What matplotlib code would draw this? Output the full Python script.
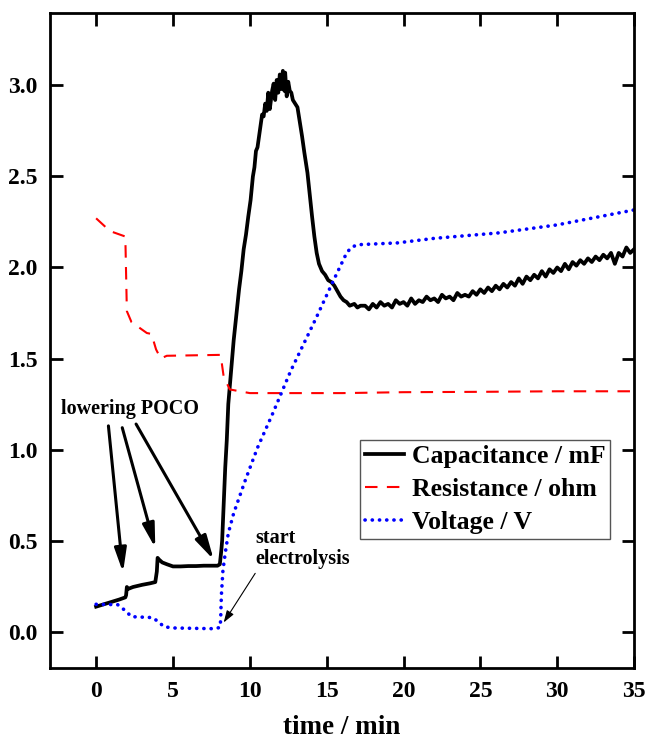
#!/usr/bin/env python3

import matplotlib
matplotlib.use("Agg")
import matplotlib.pyplot as plt

plt.rcParams["font.family"] = ["Liberation Serif", "DejaVu Serif"]
plt.rcParams["font.weight"] = "bold"

# Capacitance / mF
cap_t = [
    0.0, 0.5, 1.0, 1.5, 1.9, 1.95, 2.0, 2.1, 2.4, 3.0, 3.5, 3.85, 3.95, 4.0,
    4.1, 4.3, 4.6, 5.0, 5.5, 6.0, 6.5, 7.0, 7.5, 7.9, 8.05, 8.15, 8.2, 8.3,
    8.4, 8.5, 8.6, 8.75, 8.95, 9.1, 9.3, 9.45, 9.6, 9.75, 9.9, 10.05, 10.2,
    10.3, 10.4, 10.5, 10.65, 10.8, 10.9, 11.0, 11.1, 11.2, 11.3, 11.45, 11.55,
    11.65, 11.75, 11.85, 11.95, 12.05, 12.15, 12.25, 12.3, 12.4, 12.5, 12.6,
    12.7, 12.8, 12.95, 13.1, 13.25, 13.4, 13.55, 13.75, 13.9, 14.05, 14.2,
    14.35, 14.5, 14.7, 14.9, 15.1, 15.3, 15.5, 15.7, 15.9, 16.1, 16.3, 16.5,
    16.8, 17.0, 17.2,
    17.5, 17.75, 18.0, 18.25, 18.5, 18.75, 19.0, 19.25, 19.5, 19.75, 20.0,
    20.25, 20.5, 20.75, 21.0, 21.25, 21.5, 21.75, 22.0, 22.25, 22.5, 22.75,
    23.0, 23.25, 23.5, 23.75, 24.0, 24.25, 24.5, 24.75, 25.0, 25.25, 25.5,
    25.75, 26.0, 26.25, 26.5, 26.75, 27.0, 27.25, 27.5, 27.75, 28.0, 28.25,
    28.5, 28.75, 29.0, 29.25, 29.5, 29.75, 30.0, 30.25, 30.5, 30.75, 31.0,
    31.25, 31.5, 31.75, 32.0, 32.25, 32.5, 32.75, 33.0, 33.25, 33.5, 33.75,
    34.0, 34.25, 34.5, 34.75, 35.0,
]
cap_v = [
    0.137, 0.150, 0.163, 0.176, 0.188, 0.20, 0.245, 0.235, 0.245, 0.257, 0.265,
    0.272, 0.33, 0.405, 0.395, 0.38, 0.37, 0.358, 0.358, 0.360, 0.360, 0.362,
    0.362, 0.362, 0.370, 0.45, 0.50, 0.70, 0.90, 1.05, 1.25, 1.40, 1.60, 1.72,
    1.88, 1.98, 2.10, 2.18, 2.28, 2.37, 2.50, 2.55, 2.64, 2.66, 2.75, 2.84,
    2.83, 2.90, 2.86, 2.96, 2.87, 2.97, 3.01, 2.92, 3.03, 2.96, 3.06, 2.98,
    3.08, 2.97, 3.07, 2.94, 3.02, 2.97, 2.96, 2.92, 2.90, 2.88, 2.80, 2.72,
    2.63, 2.52, 2.40, 2.28, 2.17, 2.08, 2.02, 1.98, 1.96, 1.93, 1.92, 1.90,
    1.87, 1.84, 1.82, 1.81, 1.79, 1.80, 1.78, 1.79,
    1.79, 1.77, 1.80, 1.78, 1.81, 1.79, 1.80, 1.78, 1.82, 1.80, 1.81,
    1.79, 1.83, 1.80, 1.82, 1.81, 1.84, 1.82, 1.83, 1.81, 1.85, 1.83,
    1.84, 1.82, 1.86, 1.84, 1.85, 1.84, 1.87, 1.85, 1.88, 1.86, 1.89,
    1.87, 1.90, 1.88, 1.91, 1.89, 1.92, 1.90, 1.94, 1.91, 1.95, 1.93,
    1.96, 1.94, 1.98, 1.95, 1.99, 1.97, 2.00, 1.98, 2.02, 1.99, 2.03,
    2.01, 2.04, 2.02, 2.05, 2.03, 2.06, 2.04, 2.07, 2.05, 2.08, 2.02,
    2.08, 2.06, 2.11, 2.08, 2.10,
]

# Resistance / ohm
res_t = [0.0, 0.9, 1.9, 2.0, 2.3, 3.3, 3.6, 3.9, 4.2, 4.6, 8.1, 8.3, 8.7,
         10.0, 12.0, 16.0, 20.0, 25.0, 30.0, 35.0]
res_v = [2.27, 2.20, 2.17, 1.76, 1.70, 1.64, 1.635, 1.55, 1.50, 1.515, 1.52,
         1.40, 1.33, 1.31, 1.31, 1.31, 1.315, 1.317, 1.32, 1.32]

# Voltage / V
volt_t = [0.0, 1.4, 1.9, 2.3, 3.65, 4.05, 4.4, 5.0, 7.6, 8.05, 8.1, 8.15,
          8.25, 8.4, 8.6, 8.95, 9.7, 10.5, 11.5, 12.65, 14.3, 15.45, 16.3,
          16.6, 17.0, 19.6, 22.0, 26.2, 30.0, 35.0]
volt_v = [0.15, 0.148, 0.115, 0.082, 0.077, 0.055, 0.027, 0.02, 0.016, 0.022,
          0.06, 0.20, 0.335, 0.43, 0.54, 0.65, 0.83, 1.01, 1.20, 1.43, 1.72,
          1.93, 2.08, 2.11, 2.125, 2.135, 2.16, 2.19, 2.234, 2.316]

x_ticks = [0, 5, 10, 15, 20, 25, 30, 35]
y_ticks = [0.0, 0.5, 1.0, 1.5, 2.0, 2.5, 3.0]

fig = plt.figure(figsize=(6.47, 7.41), dpi=100)
ax = fig.add_axes([0.0773, 0.0985, 0.9027, 0.8845])

ax.plot(cap_t, cap_v, color="black", lw=2.7, label="Capacitance / mF")
ax.plot(res_t, res_v, color="#ff0000", lw=1.5, linestyle=(0, (6, 4.5)),
        label="Resistance / ohm")
ax.plot(volt_t, volt_v, color="#0000ff", lw=2.6, linestyle=(0, (0.05, 1.95)),
        dash_capstyle="round", label="Voltage / V")

ax.set_xlim(-3, 35)
ax.set_ylim(-0.2, 3.4)
ax.set_xticks(x_ticks)
ax.set_yticks(y_ticks)
ax.set_xticklabels([str(t) for t in x_ticks])
ax.set_yticklabels([f"{t:.1f}" for t in y_ticks])
ax.tick_params(direction="in", length=9, width=2, labelsize=17,
               top=True, right=True, labeltop=False, labelright=False, pad=9)
for s in ax.spines.values():
    s.set_linewidth(2)

ax.set_xlabel("time / min", fontsize=19.5, fontweight="bold", labelpad=10)

# lowering POCO arrows
ax.text(2.2, 1.22, "lowering POCO", fontsize=14.5, fontweight="bold",
        ha="center", va="center")
poco_arrows = [((0.8, 1.13), (1.75, 0.325)),
               ((1.7, 1.12), (3.85, 0.46)),
               ((2.6, 1.14), (7.65, 0.395))]
for start, tip in poco_arrows:
    ax.annotate("", xy=tip, xytext=start,
                arrowprops=dict(arrowstyle="-|>,head_length=0.8,head_width=0.2",
                                mutation_scale=18, lw=2.2, color="black",
                                shrinkA=0, shrinkB=0))

ax.text(10.35, 0.57, "start\nelectrolysis", fontsize=14.5, fontweight="bold",
        ha="left", va="top", linespacing=1.1)
ax.annotate("", xy=(8.3, 0.05), xytext=(10.35, 0.32),
            arrowprops=dict(arrowstyle="-|>,head_length=0.6,head_width=0.2",
                            mutation_scale=12, lw=0.8, color="black",
                            shrinkA=0, shrinkB=0))

leg = ax.legend(loc="upper left", bbox_to_anchor=(0.531, 0.348),
                borderaxespad=0, handlelength=1.5,
                handletextpad=0.3, labelspacing=0.38, borderpad=0.2,
                fancybox=False, framealpha=1,
                prop={"weight": "bold", "size": 18.5})
leg.get_frame().set_edgecolor("#555555")
leg.get_frame().set_linewidth(1.0)

plt.savefig("out.png", dpi=100)
plt.close()
